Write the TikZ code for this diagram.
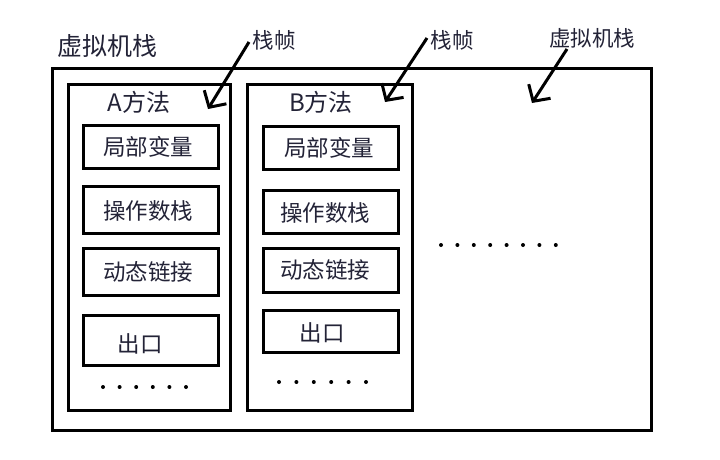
\documentclass[tikz,border=0pt]{standalone}
\usepackage{fontspec}
\setmainfont{Noto Sans CJK SC}
\usetikzlibrary{arrows.meta}
\definecolor{ink}{RGB}{35,35,55}
\begin{document}
\begin{tikzpicture}[x=1pt,y=-1pt,
  frame/.style={draw=black,line width=3pt},
  part/.style={draw=black,line width=3pt,minimum width=135pt,inner sep=0pt},
  ptxt/.style={font=\fontsize{22.5pt}{22.5pt}\selectfont,text=ink,inner sep=0pt},
  lbl/.style={font=\fontsize{24pt}{24pt}\selectfont,text=ink,inner sep=0pt},
  slbl/.style={font=\fontsize{21.5pt}{21.5pt}\selectfont,text=ink,inner sep=0pt},
  callout/.style={draw=black,line width=3pt,-{Straight Barb[length=12pt,width=26pt]}},
  dot/.style={fill=black,circle,inner sep=0pt,minimum size=4pt}]
\useasboundingbox (0,0) rectangle (720,459);
\fill[white] (0,0) rectangle (720,459);
% outer stack
\draw[frame] (52,68) rectangle (651,430);
\node[lbl,anchor=west,font=\fontsize{25pt}{25pt}\selectfont] (vmtitle) at (57,46) {虚拟机栈};
% frame A
\draw[frame] (68,84) rectangle (230,410);
\node[lbl] (amethod) at (139,102) {A方法};
\node[part,minimum height=43pt] (alocal) at (150.5,146.5) {};
\node[ptxt] (alocaltxt) at (148,147) {局部变量};
\node[part,minimum height=47pt] (aop) at (150.5,209.5) {};
\node[ptxt] (aoptxt) at (148,211) {操作数栈};
\node[part,minimum height=47pt] (adyn) at (150.5,271.5) {};
\node[ptxt] (adyntxt) at (148,272) {动态链接};
\node[part,minimum height=50pt] (aexit) at (150.5,340) {};
\node[ptxt] (aexittxt) at (140,344) {出口};
\foreach \i in {0,...,5} \node[dot] (adot\i) at (103+\i*16.6,387) {};
% frame B
\draw[frame] (247,84) rectangle (412,410);
\node[lbl] (bmethod) at (321,102) {B方法};
\node[part,minimum height=43pt] (blocal) at (330.5,148) {};
\node[ptxt] (blocaltxt) at (329,148) {局部变量};
\node[part,minimum height=43pt] (bop) at (330.5,212) {};
\node[ptxt] (boptxt) at (325,213) {操作数栈};
\node[part,minimum height=44pt] (bdyn) at (330.5,270) {};
\node[ptxt] (bdyntxt) at (325,270) {动态链接};
\node[part,minimum height=42pt] (bexit) at (330.5,331) {};
\node[ptxt] (bexittxt) at (322,333) {出口};
\foreach \i in {0,...,5} \node[dot] (bdot\i) at (279+\i*17.4,382) {};
% right dots
\foreach \i in {0,...,7} \node[dot] (rdot\i) at (441+\i*16.4,245) {};
% labels and callouts
\node[slbl] (frameA) at (274,40) {栈帧};
\node[slbl] (frameB) at (452,40) {栈帧};
\node[slbl] (vmlabel) at (592,38) {虚拟机栈};
\coordinate (s1) at (249,42);
\coordinate (t1) at (208,109);
\coordinate (s2) at (427,38);
\coordinate (t2) at (385,102);
\coordinate (s3) at (567,49);
\coordinate (t3) at (532,103);
\draw[callout] (s1) -- (t1);
\draw[callout] (s2) -- (t2);
\draw[callout] (s3) -- (t3);
\end{tikzpicture}
\end{document}
